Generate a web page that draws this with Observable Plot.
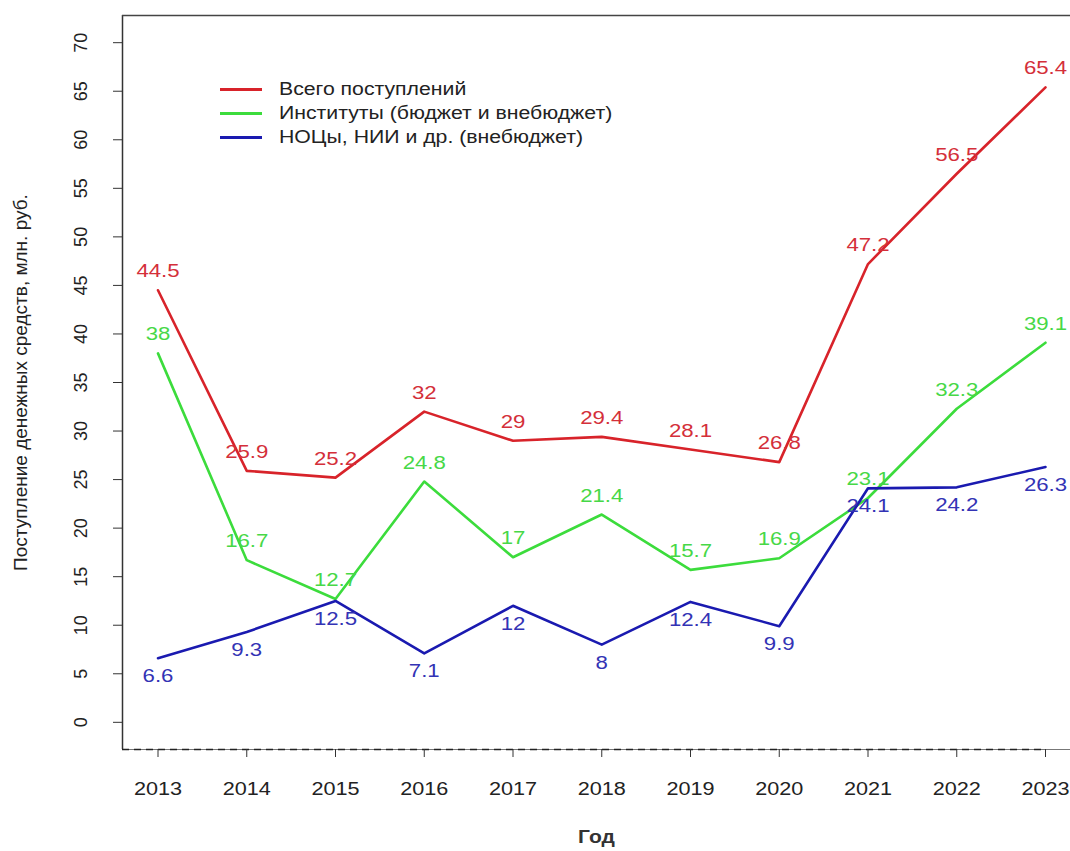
<!DOCTYPE html>
<html>
<head>
<meta charset="utf-8">
<script src="https://cdn.jsdelivr.net/npm/d3@7"></script>
<script src="https://cdn.jsdelivr.net/npm/@observablehq/plot@0.6"></script>
<style>
  html, body { margin: 0; padding: 0; background: #fff; overflow: hidden; }
  #wrap { position: relative; width: 1070px; height: 851px; font-family: "Liberation Sans", Arial, sans-serif; }
  #legend { position: absolute; left: 220px; top: 77px; font-size: 18px; color: #222; }
  #legend .row { display: flex; align-items: center; height: 24px; }
  #legend .sw { display: inline-block; width: 42px; height: 3px; margin-right: 17px; flex: none; }
  #legend .lt { display: inline-block; transform: scaleX(1.18); transform-origin: left center; white-space: nowrap; }
</style>
</head>
<body>
<div id="wrap"></div>
<script>
const years = [2013, 2014, 2015, 2016, 2017, 2018, 2019, 2020, 2021, 2022, 2023];
const totalValues = [44.5, 25.9, 25.2, 32, 29, 29.4, 28.1, 26.8, 47.2, 56.5, 65.4];
const institutesValues = [38, 16.7, 12.7, 24.8, 17, 21.4, 15.7, 16.9, 23.1, 32.3, 39.1];
const centersValues = [6.6, 9.3, 12.5, 7.1, 12, 8, 12.4, 9.9, 24.1, 24.2, 26.3];
const seriesNames = ["Всего поступлений", "Институты (бюджет и внебюджет)", "НОЦы, НИИ и др. (внебюджет)"];
const yTicks = [0, 5, 10, 15, 20, 25, 30, 35, 40, 45, 50, 55, 60, 65, 70];
const xTitle = "Год";
const yTitle = "Поступление денежных средств, млн. руб.";

const lineColors = ["#d8232a", "#3cdc3c", "#1a1ab0"];
const labelColors = ["#d42f3a", "#47d847", "#3333b5"];

const seriesValues = [totalValues, institutesValues, centersValues];
const series = seriesNames.map((name, i) => years.map((year, j) => ({year, value: seriesValues[i][j], name})));

// R-style padded domains (4%)
const xSpan = years[years.length - 1] - years[0];
const ySpan = yTicks[yTicks.length - 1] - yTicks[0];
const xDom = [years[0] - 0.04 * xSpan, years[years.length - 1] + 0.04 * xSpan];
const yDom = [yTicks[0] - 0.04 * ySpan, yTicks[yTicks.length - 1] + 0.04 * ySpan];

const font = "Liberation Sans, Arial, sans-serif";
const marks = [];

// frame (left, top, bottom)
marks.push(Plot.ruleX([xDom[0]], {y1: yDom[0], y2: yDom[1], stroke: "#333", strokeWidth: 1.5}));
marks.push(Plot.ruleY([yDom[1]], {x1: xDom[0], x2: xDom[1], stroke: "#444", strokeWidth: 1.5}));
marks.push(Plot.ruleY([yDom[0]], {x1: xDom[0], x2: xDom[1], stroke: "#777", strokeWidth: 1}));
marks.push(Plot.ruleY([yDom[0]], {x1: xDom[0], x2: years[years.length - 1], stroke: "#222", strokeWidth: 1.6, strokeDasharray: "7,5"}));

// axes
marks.push(Plot.axisY(yTicks, {anchor: "left", tickSize: 9, tickPadding: 27, tickRotate: -90, fontSize: 18, stroke: "#333", color: "#222", label: null}));
marks.push(Plot.axisX(years, {anchor: "bottom", tickSize: 8, tickPadding: 24, fontSize: 18.5, stroke: "#333", color: "#222", tickFormat: d => String(d), label: null}));

// lines
series.forEach((s, i) => {
  marks.push(Plot.line(s, {x: "year", y: "value", stroke: lineColors[i], strokeWidth: 2.6}));
});
// value labels
series.forEach((s, i) => {
  marks.push(Plot.text(s, {x: "year", y: "value", text: d => String(d.value), fill: labelColors[i], fontSize: 19, dy: i === 2 ? 18 : -19}));
});

// axis titles
marks.push(Plot.text([xTitle], {frameAnchor: "bottom", text: d => d, dy: 93, fontSize: 18, fontWeight: "bold", fill: "#333"}));
marks.push(Plot.text([yTitle], {frameAnchor: "left", textAnchor: "middle", text: d => d, dx: -102, rotate: -90, fontSize: 19, fill: "#222"}));

const chart = Plot.plot({
  width: 1070,
  height: 851,
  marginLeft: 122,
  marginTop: 15,
  marginBottom: 102,
  marginRight: 0,
  style: {fontFamily: font, background: "#fff", overflow: "visible"},
  x: {domain: xDom, range: [122, 1080.5], axis: null},
  y: {domain: yDom, range: [749, 15], axis: null},
  marks
});
const wrap = document.getElementById("wrap");
wrap.appendChild(chart);

// widen horizontal (non-rotated) text to mimic the reference's aspect, around each text's own anchor
const SX = 1.17;
chart.querySelectorAll("text").forEach(t => {
  const tr = t.getAttribute("transform") || "";
  if (tr.includes("rotate")) return;
  const x = parseFloat(t.getAttribute("x") || "0") || 0;
  t.setAttribute("transform", `${tr} translate(${x},0) scale(${SX},1) translate(${-x},0)`.trim());
});

const legend = document.createElement("div");
legend.id = "legend";
seriesNames.forEach((name, i) => {
  const row = document.createElement("div");
  row.className = "row";
  const sw = document.createElement("span");
  sw.className = "sw";
  sw.style.background = lineColors[i];
  const t = document.createElement("span");
  t.className = "lt";
  t.textContent = name;
  row.appendChild(sw);
  row.appendChild(t);
  legend.appendChild(row);
});
wrap.appendChild(legend);
</script>
</body>
</html>
